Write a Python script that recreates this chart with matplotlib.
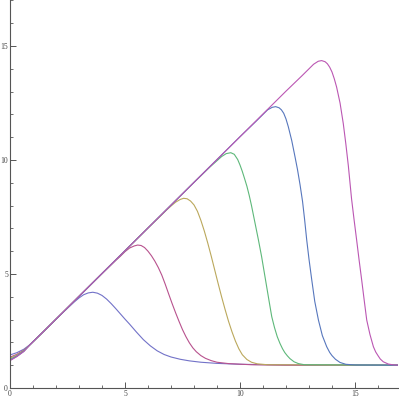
import numpy as np
import matplotlib.pyplot as plt
from matplotlib.ticker import MultipleLocator

# -------------------------
# Data
# -------------------------

x1 = [0, 0.3, 0.6, 0.87, 1.5, 2.0, 2.5, 2.8, 3.0, 3.2, 3.4, 3.6, 3.8, 4.0, 4.2, 4.4,
      4.6, 4.8, 5.0, 5.2, 5.5, 5.8, 6.1, 6.4, 6.7, 7.0, 7.4, 7.8, 8.3, 9.0, 10.0, 12.0, 17.0]
y1 = [1.45, 1.55, 1.7, 1.9, 2.52, 3.02, 3.5, 3.78, 3.95, 4.09, 4.17, 4.2, 4.16, 4.06, 3.9, 3.7,
      3.48, 3.25, 3.02, 2.8, 2.45, 2.12, 1.85, 1.63, 1.47, 1.36, 1.26, 1.19, 1.13, 1.08, 1.04, 1.01, 1.0]

x2 = [0, 0.3, 0.6, 0.87, 1.5, 2.0, 3.0, 4.0, 4.6, 4.8, 5.0, 5.2, 5.4, 5.55, 5.7, 5.85,
      6.0, 6.15, 6.3, 6.45, 6.6, 6.75, 6.9, 7.05, 7.2, 7.35, 7.5, 7.65, 7.8, 7.95, 8.1,
      8.3, 8.5, 8.75, 9.0, 9.5, 10.5, 12.0, 17.0]
y2 = [1.35, 1.48, 1.66, 1.9, 2.52, 3.02, 4.02, 5.02, 5.6, 5.78, 5.98, 6.14, 6.23, 6.27, 6.25, 6.16,
      6.0, 5.8, 5.56, 5.28, 4.95, 4.55, 4.12, 3.7, 3.3, 2.92, 2.56, 2.25, 1.98, 1.76, 1.59,
      1.42, 1.3, 1.2, 1.13, 1.07, 1.02, 1.0, 1.0]

x3 = [0, 0.3, 0.6, 0.87, 1.5, 2.0, 3.0, 4.0, 5.0, 6.0, 6.6, 6.8, 7.0, 7.2, 7.4, 7.55,
      7.7, 7.85, 8.0, 8.15, 8.3, 8.45, 8.6, 8.75, 8.9, 9.05, 9.2, 9.35, 9.5, 9.65, 9.8,
      9.95, 10.1, 10.3, 10.5, 10.75, 11.2, 17.0]
y3 = [1.3, 1.44, 1.64, 1.9, 2.52, 3.02, 4.02, 5.02, 6.02, 7.02, 7.6, 7.8, 7.98, 8.15, 8.27, 8.32,
      8.3, 8.2, 8.03, 7.75, 7.35, 6.88, 6.35, 5.78, 5.18, 4.58, 4.0, 3.45, 2.93, 2.47, 2.06,
      1.72, 1.46, 1.25, 1.13, 1.06, 1.02, 1.0]

x4 = [0, 0.3, 0.6, 0.87, 1.5, 2.0, 4.0, 6.0, 8.0, 8.7, 9.0, 9.2, 9.4, 9.6, 9.75, 9.9,
      10.0, 10.1, 10.2, 10.3, 10.4, 10.5, 10.65, 10.8, 10.94, 11.05, 11.16, 11.27, 11.38,
      11.5, 11.62, 11.74, 11.85, 11.95, 12.06, 12.17, 12.35, 12.54, 12.8, 17.0]
y4 = [1.25, 1.41, 1.62, 1.9, 2.52, 3.02, 5.02, 7.02, 9.02, 9.7, 9.97, 10.15, 10.28, 10.32, 10.25, 10.02,
      9.78, 9.5, 9.18, 8.85, 8.45, 8.0, 7.25, 6.5, 5.76, 5.1, 4.44, 3.78, 3.13,
      2.65, 2.25, 1.95, 1.72, 1.55, 1.41, 1.29, 1.15, 1.07, 1.02, 1.0]

x5 = [0, 0.3, 0.6, 0.87, 1.5, 2.0, 4.0, 6.0, 8.0, 10.0, 10.7, 11.0, 11.2, 11.4, 11.55,
      11.7, 11.8, 11.9, 12.0, 12.1, 12.25, 12.39, 12.5, 12.61, 12.72, 12.81, 12.9, 13.0,
      13.12, 13.25, 13.41, 13.58, 13.77, 13.9, 14.0, 14.15, 14.35, 14.6, 15.0, 17.0]
y5 = [1.22, 1.39, 1.61, 1.9, 2.52, 3.02, 5.02, 7.02, 9.02, 11.02, 11.7, 12.0, 12.2, 12.31, 12.34,
      12.29, 12.2, 12.05, 11.8, 11.46, 10.85, 10.15, 9.58, 8.92, 8.18, 7.38, 6.5, 5.65,
      4.74, 3.8, 2.98, 2.3, 1.81, 1.56, 1.42, 1.26, 1.12, 1.04, 1.01, 1.0]

x6 = [0, 0.3, 0.6, 0.87, 1.5, 2.0, 4.0, 6.0, 8.0, 10.0, 12.0, 12.7, 13.0, 13.2, 13.4,
      13.55, 13.7, 13.8, 13.9, 14.0, 14.1, 14.2, 14.35, 14.49, 14.6, 14.71, 14.85, 14.96,
      15.07, 15.18, 15.29, 15.4, 15.51, 15.65, 15.8, 15.9, 16.0, 16.1, 16.23, 16.45,
      16.7, 17.0]
y6 = [1.2, 1.38, 1.6, 1.9, 2.52, 3.02, 5.02, 7.02, 9.02, 11.02, 13.02, 13.7, 14.0, 14.2, 14.33,
      14.36, 14.31, 14.22, 14.07, 13.86, 13.56, 13.2, 12.5, 11.6, 10.72, 9.75, 8.3, 7.38,
      6.5, 5.6, 4.74, 3.85, 2.98, 2.35, 1.81, 1.58, 1.42, 1.27, 1.15, 1.05,
      1.01, 1.0]

curves = [(x1, y1), (x2, y2), (x3, y3), (x4, y4), (x5, y5), (x6, y6)]
colors = ['#7272c8', '#b8528e', '#bba85c', '#5eb87a', '#5777bd', '#bb57b3']

x_major = [0, 5, 10, 15]
y_major = [0, 5, 10, 15]

# -------------------------
# Plot
# -------------------------

fig = plt.figure(figsize=(3.99, 4.0), dpi=100)
ax = fig.add_axes([10 / 399, 12 / 400, 388 / 399, 388 / 400])

for (xs, ys), c in zip(curves, colors):
    ax.plot(xs, ys, color=c, lw=0.8, solid_joinstyle='round')

ax.set_xlim(0, 388 / 23)
ax.set_ylim(0, 388 / 22.8)

for side in ['top', 'right']:
    ax.spines[side].set_visible(False)
for side in ['left', 'bottom']:
    ax.spines[side].set_color('#555555')
    ax.spines[side].set_linewidth(0.8)

ax.set_xticks(x_major)
ax.set_yticks(y_major)
ax.set_xticklabels([str(v) for v in x_major])
ax.set_yticklabels([str(v) for v in y_major])
ax.xaxis.set_minor_locator(MultipleLocator(1))
ax.yaxis.set_minor_locator(MultipleLocator(1))
ax.tick_params(which='major', direction='in', length=4, width=0.7, color='#555555',
               labelsize=5.5, labelcolor='#444444', pad=1.5)
ax.tick_params(which='minor', direction='in', length=2.5, width=0.6, color='#555555')
for lab in ax.get_xticklabels() + ax.get_yticklabels():
    lab.set_family('Liberation Serif')

fig.savefig('out.png', dpi=100)
